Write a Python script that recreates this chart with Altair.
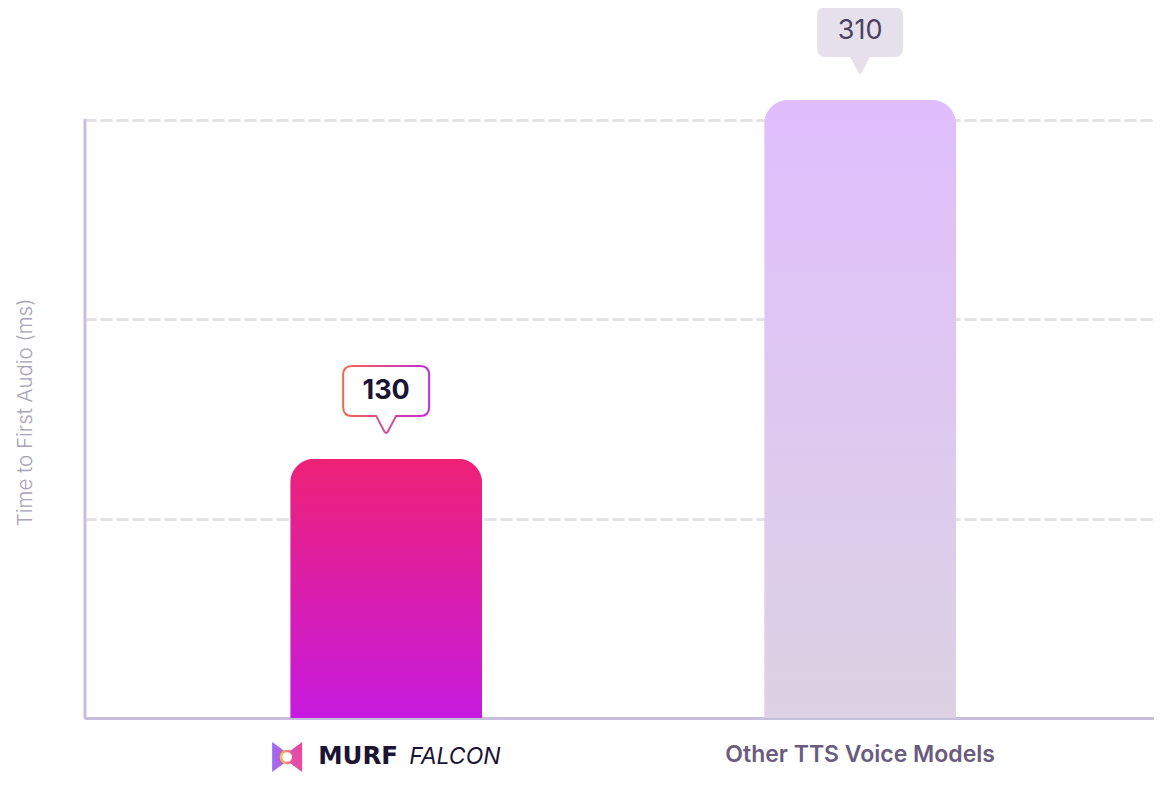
import altair as alt
import pandas as pd

models = ['MURF FALCON', 'Other TTS Voice Models']
latency_ms = [130, 310]
grid_values = [100, 200, 300]

df = pd.DataFrame({'Model': models, 'Latency': latency_ms})
df['Label'] = df['Latency'].astype(str)
murf = df[df['Model'] == models[0]]
other = df[df['Model'] == models[1]]

# speech-bubble shape, drawn with size=4 so one path unit = one pixel, tip above the bar top
BUBBLE = ('M -34,-93 L 34,-93 Q 43,-93 43,-84 L 43,-52 Q 43,-43 34,-43 L 10,-43 '
          'L 1.5,-27 Q 0,-25 -1.5,-27 L -10,-43 L -34,-43 Q -43,-43 -43,-52 '
          'L -43,-84 Q -43,-93 -34,-93 Z')
LOGO = 'M -15,-15 L 0,-4 L 15,-15 L 15,15 L 0,4 L -15,15 Z'
Y_MAX = 356.2


def vgrad(top, bottom):
    return alt.Gradient(gradient='linear', x1=0, x2=0, y1=0, y2=1,
                        stops=[alt.GradientStop(offset=0, color=top),
                               alt.GradientStop(offset=1, color=bottom)])


def hgrad(left, right):
    return alt.Gradient(gradient='linear', x1=0, x2=1, y1=0, y2=0,
                        stops=[alt.GradientStop(offset=0, color=left),
                               alt.GradientStop(offset=1, color=right)])


x_enc = alt.X('Model:N', sort=models, title=None,
              scale=alt.Scale(paddingInner=0.595, paddingOuter=0.4252, align=0.509),
              axis=alt.Axis(labels=False, ticks=False, domainColor='#C6BEDD',
                            domainWidth=3, grid=False))
y_enc = alt.Y('Latency:Q', scale=alt.Scale(domain=[0, Y_MAX], nice=False),
              axis=alt.Axis(values=grid_values, labels=False, ticks=False, domain=False,
                            grid=True, gridColor='#E3E3E7', gridWidth=3,
                            gridDash=[10, 6], gridCap='round',
                            title='Time to First Audio (ms)', titleFont='Inter',
                            titleFontSize=20.5, titleFontWeight=300,
                            titleColor='#A8A3B5', titleAngle=270,
                            titleX=-60, titleY=404, titleAlign='center',
                            titleBaseline='middle'))

bar_murf = alt.Chart(murf).mark_bar(
    fill=vgrad('#EE2176', '#C61BE0'), cornerRadiusTopLeft=24, cornerRadiusTopRight=24
).encode(x=x_enc, y=y_enc)

bar_other = alt.Chart(other).mark_bar(
    fill=vgrad('#E0BEFD', '#DCD2E3'), cornerRadiusTopLeft=24, cornerRadiusTopRight=24
).encode(x=x_enc, y=y_enc)

# y axis line only up to the top grid line
y_line = alt.Chart(pd.DataFrame({'lo': [0], 'hi': [max(grid_values)]})).mark_rule(
    color='#C6BEDD', strokeWidth=3, strokeCap='round'
).encode(x=alt.value(0), y='lo:Q', y2='hi:Q')

bubble_murf = alt.Chart(murf).mark_point(
    shape=BUBBLE, size=4, filled=True, fill='white', opacity=1,
    stroke=hgrad('#F2684C', '#C12ADB'), strokeWidth=2
).encode(x=x_enc, y=y_enc)

bubble_other = alt.Chart(other).mark_point(
    shape=BUBBLE, size=4, filled=True, fill='#E6E0EC', opacity=1, strokeWidth=0
).encode(x=x_enc, y=y_enc)

text_murf = alt.Chart(murf).mark_text(
    dy=-68, font='Inter', fontSize=27, fontWeight='bold', color='#1B1433',
    baseline='middle'
).encode(x=x_enc, y=y_enc, text='Label:N')

text_other = alt.Chart(other).mark_text(
    dy=-69, font='Inter', fontSize=27, fontWeight='normal', color='#4A4060',
    baseline='middle'
).encode(x=x_enc, y=y_enc, text='Label:N')

# category labels under the axis
label_y = alt.Y('zero:Q', scale=alt.Scale(domain=[0, Y_MAX], nice=False))
lab = murf.assign(zero=0, w1='MURF', w2='FALCON')
oth = other.assign(zero=0)

logo = alt.Chart(lab).mark_point(
    shape=LOGO, size=4, filled=True, opacity=1, yOffset=39, xOffset=-99,
    fill=hgrad('#9B6CF7', '#F0479A'), strokeWidth=0
).encode(x=x_enc, y=label_y)

logo_hole = alt.Chart(lab).mark_point(
    shape='circle', size=150, filled=True, opacity=1, yOffset=39, xOffset=-99,
    fill='white', stroke=hgrad('#F6C14B', '#F0479A'), strokeWidth=2.5
).encode(x=x_enc, y=label_y)

murf_word = alt.Chart(lab).mark_text(
    dy=39, dx=-68, align='left', baseline='middle', font='DejaVu Sans',
    fontSize=24.5, fontWeight='bold', color='#1B1433'
).encode(x=x_enc, y=label_y, text='w1:N')

falcon_word = alt.Chart(lab).mark_text(
    dy=39, dx=23, align='left', baseline='middle', font='Inter',
    fontSize=23, fontStyle='italic', color='#1B1433'
).encode(x=x_enc, y=label_y, text='w2:N')

other_word = alt.Chart(oth).mark_text(
    dy=37, baseline='middle', font='Inter', fontSize=23, fontWeight=600,
    color='#6A5C7E'
).encode(x=x_enc, y=label_y, text='Model:N')

chart = alt.layer(
    bar_murf, bar_other, y_line, bubble_murf, bubble_other, text_murf, text_other,
    logo, logo_hole, murf_word, falcon_word, other_word
).properties(
    width=1069,
    height=710,
    background='white',
    autosize=alt.AutoSizeParams(type='none'),
    padding={'left': 77, 'top': 0, 'right': 0, 'bottom': 70}
).configure_view(strokeWidth=0)

chart.save("out.html", embed_options={"renderer": "svg", "actions": False})
